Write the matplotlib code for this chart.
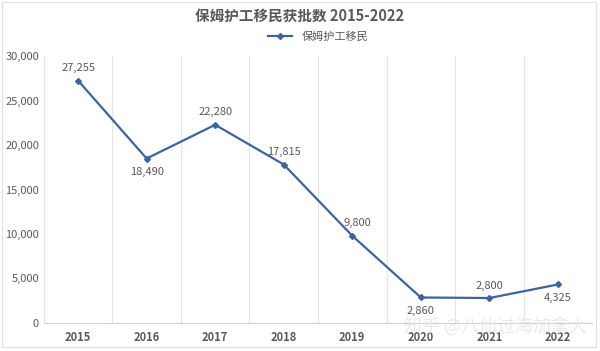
import matplotlib.pyplot as plt
import matplotlib.patches as mpatches
from matplotlib.ticker import FuncFormatter

plt.rcParams['font.family'] = ['Noto Sans CJK SC', 'DejaVu Sans']

years = ['2015', '2016', '2017', '2018', '2019', '2020', '2021', '2022']
approved = [27255, 18490, 22280, 17815, 9800, 2860, 2800, 4325]
label_pos = ['above', 'below', 'above', 'above', 'above', 'below', 'above', 'below']

line_color = '#3d64a0'
text_color = '#595959'

fig = plt.figure(figsize=(6, 3.51), dpi=100)
ax = fig.add_axes([0.073, 0.08, 0.914, 0.76])

x = list(range(len(years)))
ax.plot(x, approved, color=line_color, lw=1.6, marker='D', ms=3, label='保姆护工移民')

for i, v in enumerate(approved):
    dy = 9 if label_pos[i] == 'above' else -10
    dx = 4 if years[i] == '2019' else 0
    ax.annotate(f'{v:,}', (i, v), xytext=(dx, dy), textcoords='offset points',
                ha='center', va='center', fontsize=8, color=text_color)

ax.set_xlim(-0.5, len(years) - 0.5)
ax.set_ylim(0, 30000)
ax.set_yticks(range(0, 30001, 5000))
ax.yaxis.set_major_formatter(FuncFormatter(lambda v, p: f'{int(v):,}'))
ax.set_xticks(x)
ax.set_xticklabels(years, fontweight='bold')
ax.tick_params(axis='both', length=0, labelsize=8, colors=text_color)
ax.tick_params(axis='x', pad=6)

for b in range(len(years) + 1):
    ax.axvline(b - 0.5, color='#e4e4e4', lw=0.8, zorder=0)
for s in ['top', 'right', 'left']:
    ax.spines[s].set_visible(False)
ax.spines['bottom'].set_color('#d0d0d0')

fig.text(0.5, 0.955, '保姆护工移民获批数 2015-2022', ha='center', va='center',
         fontsize=10.5, fontweight='bold', color=text_color)
ax.legend(loc='center', bbox_to_anchor=(0.5, 1.072), frameon=False,
          fontsize=8, labelcolor=text_color, handlelength=2.2, borderaxespad=0)

fig.text(0.825, 0.07, '知乎 @八仙过海加拿大', ha='center', va='center',
         fontsize=13, color='#e8e8e8', alpha=0.9, zorder=0)

fig.patches.append(mpatches.Rectangle((0.004, 0.01), 0.99, 0.985, transform=fig.transFigure,
                                      fill=False, edgecolor='#e0e0e0', lw=0.8))

fig.savefig('out.png', dpi=100)
